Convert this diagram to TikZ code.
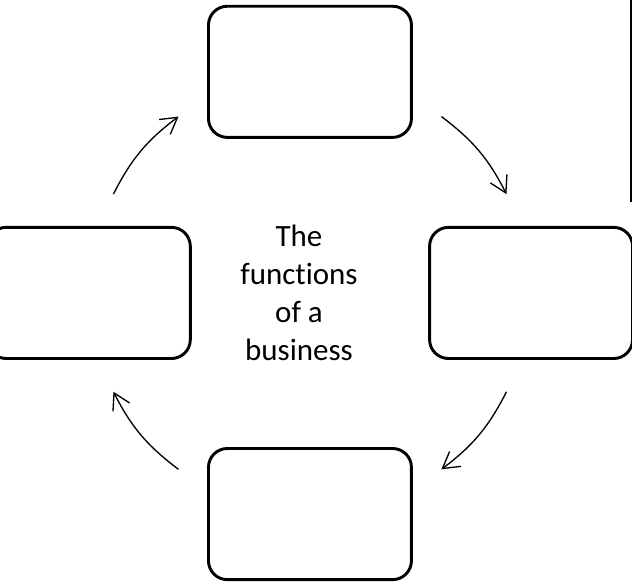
\documentclass[tikz,border=0pt]{standalone}
\usepackage{fontspec}
\setmainfont{Carlito}[Ligatures=NoCommon]
\usetikzlibrary{arrows.meta}

\begin{document}
\begin{tikzpicture}[->, >={Straight Barb[length=12pt,width=14pt]}, line width=1pt,
    box/.style={rectangle, draw=black, line width=2.2pt, rounded corners=0.5cm, minimum width=5.37cm, minimum height=3.47cm}]
\useasboundingbox (-8.20,-7.70) rectangle (8.52,7.75);
\node[box] (A) at (0,5.85) {};
\node[box] (B) at (5.85,0) {};
\node[box] (C) at (0,-5.85) {};
\node[box] (D) at (-5.85,0) {};
\node[align=center, inner sep=0pt, font=\fontsize{23.3}{28.5}\selectfont] (topic) at (-0.29,0) {The\\functions\\of a\\business};

% ends of the arcs, all on one circle round the middle
\coordinate (AB1) at (53.3:5.82);
\coordinate (AB2) at (26.7:5.82);
\coordinate (BC1) at (-26.7:5.82);
\coordinate (BC2) at (-53.3:5.82);
\coordinate (CD1) at (233.3:5.82);
\coordinate (CD2) at (206.7:5.82);
\coordinate (DA1) at (153.3:5.82);
\coordinate (DA2) at (126.7:5.82);

\draw [bend left=13] (AB1) to (AB2);
\draw [bend left=13] (BC1) to (BC2);
\draw [bend left=13] (CD1) to (CD2);
\draw [bend left=13] (DA1) to (DA2);

% edge of the table cell on the right
\coordinate (rim) at (8.49,7.75);
\draw [-] (rim) -- (8.49,2.41);
\end{tikzpicture}
\end{document}
